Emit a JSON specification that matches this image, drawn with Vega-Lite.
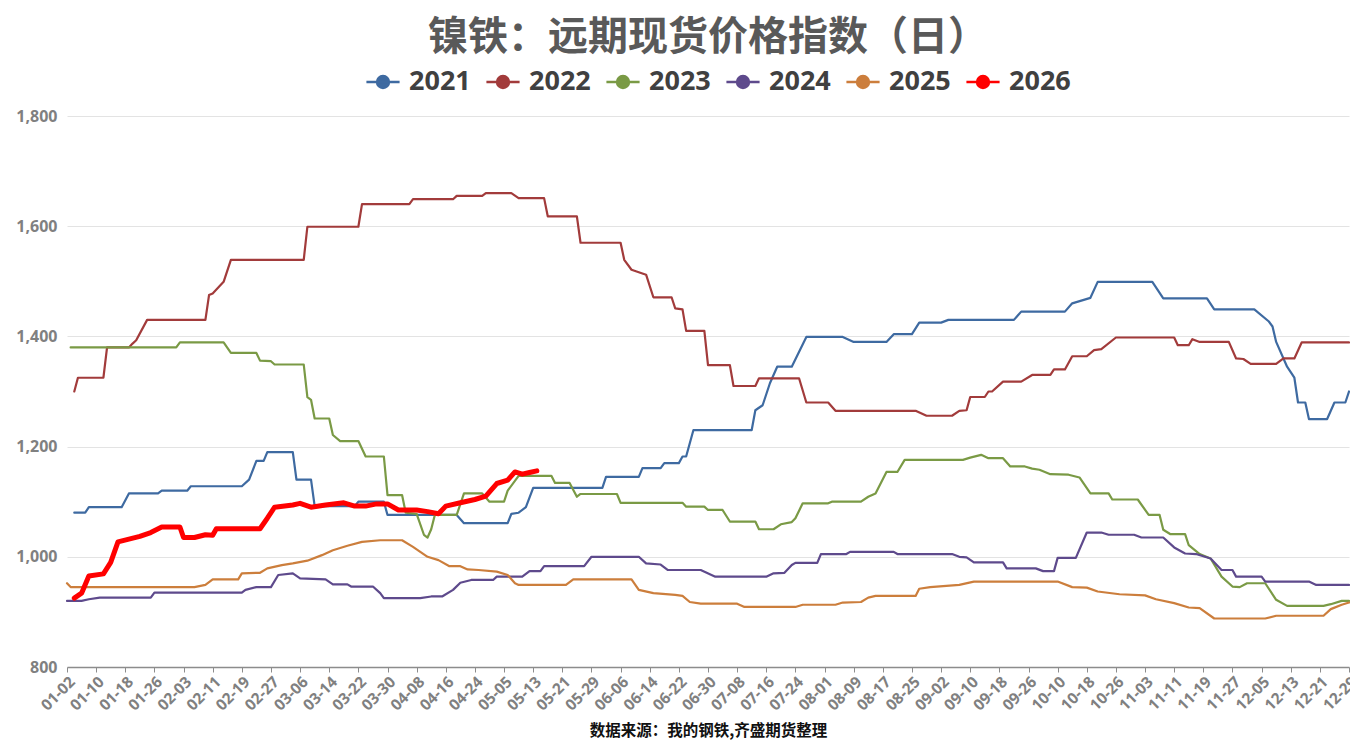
{
"$schema":"https://vega.github.io/schema/vega-lite/v6.json",
"width":1282,"height":551,
"autosize":{"type":"none"},
"padding":{"left":67,"top":116,"right":1,"bottom":75},
"background":"white",
"title":{"text":"镍铁：远期现货价格指数（日）","font":"Noto Sans CJK SC","fontSize":40,"fontWeight":"bold","color":"#595959","anchor":"middle","offset":6},
"config":{"view":{"stroke":null},"font":"Noto Sans CJK SC"},
"data":{"values":[
{"year":"2021","d":2,"v":1080},{"year":"2021","d":5,"v":1080},{"year":"2021","d":6,"v":1090},{"year":"2021","d":15,"v":1090},{"year":"2021","d":17,"v":1115},{"year":"2021","d":25,"v":1115},{"year":"2021","d":26,"v":1120},{"year":"2021","d":33,"v":1120},{"year":"2021","d":34,"v":1128},{"year":"2021","d":48,"v":1128},{"year":"2021","d":50,"v":1140},{"year":"2021","d":52,"v":1174},{"year":"2021","d":54,"v":1174},{"year":"2021","d":55,"v":1190},{"year":"2021","d":62,"v":1190},{"year":"2021","d":63,"v":1140},{"year":"2021","d":67,"v":1140},{"year":"2021","d":68,"v":1092},{"year":"2021","d":79,"v":1092},{"year":"2021","d":80,"v":1100},{"year":"2021","d":87,"v":1100},{"year":"2021","d":88,"v":1076},{"year":"2021","d":107,"v":1076},{"year":"2021","d":109,"v":1061},{"year":"2021","d":121,"v":1061},{"year":"2021","d":122,"v":1078},{"year":"2021","d":124,"v":1080},{"year":"2021","d":126,"v":1090},{"year":"2021","d":128,"v":1125},{"year":"2021","d":147,"v":1125},{"year":"2021","d":148,"v":1145},{"year":"2021","d":157,"v":1145},{"year":"2021","d":158,"v":1161},{"year":"2021","d":163,"v":1161},{"year":"2021","d":164,"v":1170},{"year":"2021","d":168,"v":1170},{"year":"2021","d":169,"v":1182},{"year":"2021","d":170,"v":1182},{"year":"2021","d":172,"v":1230},{"year":"2021","d":188,"v":1230},{"year":"2021","d":189,"v":1266},{"year":"2021","d":191,"v":1275},{"year":"2021","d":193,"v":1315},{"year":"2021","d":195,"v":1345},{"year":"2021","d":199,"v":1345},{"year":"2021","d":203,"v":1399},{"year":"2021","d":213,"v":1399},{"year":"2021","d":216,"v":1390},{"year":"2021","d":225,"v":1390},{"year":"2021","d":227,"v":1404},{"year":"2021","d":232,"v":1404},{"year":"2021","d":234,"v":1425},{"year":"2021","d":240,"v":1425},{"year":"2021","d":242,"v":1430},{"year":"2021","d":260,"v":1430},{"year":"2021","d":262,"v":1445},{"year":"2021","d":274,"v":1445},{"year":"2021","d":276,"v":1460},{"year":"2021","d":281,"v":1470},{"year":"2021","d":283,"v":1499},{"year":"2021","d":298,"v":1499},{"year":"2021","d":301,"v":1469},{"year":"2021","d":313,"v":1469},{"year":"2021","d":315,"v":1449},{"year":"2021","d":326,"v":1449},{"year":"2021","d":330,"v":1427},{"year":"2021","d":331,"v":1418},{"year":"2021","d":332,"v":1390},{"year":"2021","d":335,"v":1345},{"year":"2021","d":337,"v":1325},{"year":"2021","d":338,"v":1280},{"year":"2021","d":340,"v":1280},{"year":"2021","d":341,"v":1250},{"year":"2021","d":346,"v":1250},{"year":"2021","d":348,"v":1280},{"year":"2021","d":351,"v":1280},{"year":"2021","d":352,"v":1300},
{"year":"2022","d":2,"v":1300},{"year":"2022","d":3,"v":1325},{"year":"2022","d":10,"v":1325},{"year":"2022","d":11,"v":1380},{"year":"2022","d":17,"v":1380},{"year":"2022","d":18,"v":1387},{"year":"2022","d":19,"v":1393},{"year":"2022","d":22,"v":1430},{"year":"2022","d":38,"v":1430},{"year":"2022","d":39,"v":1475},{"year":"2022","d":40,"v":1478},{"year":"2022","d":43,"v":1499},{"year":"2022","d":45,"v":1539},{"year":"2022","d":65,"v":1539},{"year":"2022","d":66,"v":1599},{"year":"2022","d":80,"v":1599},{"year":"2022","d":81,"v":1640},{"year":"2022","d":94,"v":1640},{"year":"2022","d":95,"v":1649},{"year":"2022","d":106,"v":1649},{"year":"2022","d":107,"v":1655},{"year":"2022","d":114,"v":1655},{"year":"2022","d":115,"v":1660},{"year":"2022","d":122,"v":1660},{"year":"2022","d":124,"v":1651},{"year":"2022","d":131,"v":1651},{"year":"2022","d":132,"v":1618},{"year":"2022","d":140,"v":1618},{"year":"2022","d":141,"v":1570},{"year":"2022","d":152,"v":1570},{"year":"2022","d":153,"v":1539},{"year":"2022","d":155,"v":1521},{"year":"2022","d":159,"v":1512},{"year":"2022","d":161,"v":1471},{"year":"2022","d":166,"v":1471},{"year":"2022","d":167,"v":1451},{"year":"2022","d":169,"v":1449},{"year":"2022","d":170,"v":1410},{"year":"2022","d":175,"v":1410},{"year":"2022","d":176,"v":1348},{"year":"2022","d":182,"v":1348},{"year":"2022","d":183,"v":1310},{"year":"2022","d":189,"v":1310},{"year":"2022","d":190,"v":1324},{"year":"2022","d":201,"v":1324},{"year":"2022","d":203,"v":1280},{"year":"2022","d":209,"v":1280},{"year":"2022","d":211,"v":1265},{"year":"2022","d":233,"v":1265},{"year":"2022","d":236,"v":1256},{"year":"2022","d":243,"v":1256},{"year":"2022","d":245,"v":1265},{"year":"2022","d":247,"v":1266},{"year":"2022","d":248,"v":1290},{"year":"2022","d":252,"v":1290},{"year":"2022","d":253,"v":1300},{"year":"2022","d":254,"v":1300},{"year":"2022","d":257,"v":1318},{"year":"2022","d":262,"v":1318},{"year":"2022","d":265,"v":1330},{"year":"2022","d":270,"v":1330},{"year":"2022","d":271,"v":1340},{"year":"2022","d":274,"v":1340},{"year":"2022","d":276,"v":1364},{"year":"2022","d":280,"v":1364},{"year":"2022","d":282,"v":1375},{"year":"2022","d":284,"v":1377},{"year":"2022","d":288,"v":1398},{"year":"2022","d":304,"v":1398},{"year":"2022","d":305,"v":1384},{"year":"2022","d":308,"v":1384},{"year":"2022","d":309,"v":1395},{"year":"2022","d":311,"v":1390},{"year":"2022","d":319,"v":1390},{"year":"2022","d":321,"v":1360},{"year":"2022","d":323,"v":1359},{"year":"2022","d":325,"v":1350},{"year":"2022","d":332,"v":1350},{"year":"2022","d":334,"v":1360},{"year":"2022","d":337,"v":1360},{"year":"2022","d":339,"v":1389},{"year":"2022","d":352,"v":1389},
{"year":"2023","d":1,"v":1380},{"year":"2023","d":30,"v":1380},{"year":"2023","d":31,"v":1389},{"year":"2023","d":43,"v":1389},{"year":"2023","d":45,"v":1370},{"year":"2023","d":52,"v":1370},{"year":"2023","d":53,"v":1356},{"year":"2023","d":56,"v":1355},{"year":"2023","d":57,"v":1349},{"year":"2023","d":65,"v":1349},{"year":"2023","d":66,"v":1290},{"year":"2023","d":67,"v":1285},{"year":"2023","d":68,"v":1251},{"year":"2023","d":72,"v":1251},{"year":"2023","d":73,"v":1221},{"year":"2023","d":75,"v":1210},{"year":"2023","d":80,"v":1210},{"year":"2023","d":82,"v":1182},{"year":"2023","d":87,"v":1182},{"year":"2023","d":88,"v":1112},{"year":"2023","d":92,"v":1112},{"year":"2023","d":93,"v":1080},{"year":"2023","d":96,"v":1078},{"year":"2023","d":98,"v":1040},{"year":"2023","d":99,"v":1035},{"year":"2023","d":100,"v":1050},{"year":"2023","d":101,"v":1076},{"year":"2023","d":107,"v":1076},{"year":"2023","d":109,"v":1115},{"year":"2023","d":114,"v":1115},{"year":"2023","d":116,"v":1100},{"year":"2023","d":120,"v":1100},{"year":"2023","d":121,"v":1120},{"year":"2023","d":124,"v":1147},{"year":"2023","d":133,"v":1147},{"year":"2023","d":134,"v":1134},{"year":"2023","d":138,"v":1134},{"year":"2023","d":140,"v":1109},{"year":"2023","d":141,"v":1114},{"year":"2023","d":151,"v":1114},{"year":"2023","d":152,"v":1098},{"year":"2023","d":169,"v":1098},{"year":"2023","d":170,"v":1091},{"year":"2023","d":175,"v":1091},{"year":"2023","d":176,"v":1085},{"year":"2023","d":180,"v":1085},{"year":"2023","d":182,"v":1064},{"year":"2023","d":189,"v":1064},{"year":"2023","d":190,"v":1050},{"year":"2023","d":194,"v":1050},{"year":"2023","d":196,"v":1059},{"year":"2023","d":199,"v":1063},{"year":"2023","d":200,"v":1070},{"year":"2023","d":202,"v":1097},{"year":"2023","d":209,"v":1097},{"year":"2023","d":210,"v":1100},{"year":"2023","d":218,"v":1100},{"year":"2023","d":220,"v":1109},{"year":"2023","d":222,"v":1115},{"year":"2023","d":225,"v":1154},{"year":"2023","d":228,"v":1154},{"year":"2023","d":230,"v":1176},{"year":"2023","d":246,"v":1176},{"year":"2023","d":248,"v":1180},{"year":"2023","d":251,"v":1185},{"year":"2023","d":253,"v":1179},{"year":"2023","d":257,"v":1179},{"year":"2023","d":259,"v":1164},{"year":"2023","d":263,"v":1164},{"year":"2023","d":265,"v":1160},{"year":"2023","d":267,"v":1158},{"year":"2023","d":270,"v":1150},{"year":"2023","d":275,"v":1149},{"year":"2023","d":278,"v":1144},{"year":"2023","d":281,"v":1115},{"year":"2023","d":286,"v":1115},{"year":"2023","d":287,"v":1104},{"year":"2023","d":294,"v":1104},{"year":"2023","d":297,"v":1076},{"year":"2023","d":300,"v":1076},{"year":"2023","d":301,"v":1049},{"year":"2023","d":303,"v":1041},{"year":"2023","d":307,"v":1041},{"year":"2023","d":308,"v":1021},{"year":"2023","d":311,"v":1005},{"year":"2023","d":314,"v":997},{"year":"2023","d":317,"v":964},{"year":"2023","d":320,"v":946},{"year":"2023","d":322,"v":945},{"year":"2023","d":324,"v":952},{"year":"2023","d":329,"v":952},{"year":"2023","d":332,"v":922},{"year":"2023","d":335,"v":911},{"year":"2023","d":345,"v":911},{"year":"2023","d":347,"v":914},{"year":"2023","d":350,"v":920},{"year":"2023","d":352,"v":920},
{"year":"2024","d":0,"v":920},{"year":"2024","d":4,"v":920},{"year":"2024","d":6,"v":923},{"year":"2024","d":9,"v":926},{"year":"2024","d":23,"v":926},{"year":"2024","d":24,"v":935},{"year":"2024","d":48,"v":935},{"year":"2024","d":49,"v":940},{"year":"2024","d":52,"v":945},{"year":"2024","d":56,"v":945},{"year":"2024","d":58,"v":967},{"year":"2024","d":62,"v":970},{"year":"2024","d":64,"v":961},{"year":"2024","d":71,"v":959},{"year":"2024","d":73,"v":950},{"year":"2024","d":77,"v":950},{"year":"2024","d":78,"v":946},{"year":"2024","d":84,"v":946},{"year":"2024","d":86,"v":934},{"year":"2024","d":87,"v":925},{"year":"2024","d":97,"v":925},{"year":"2024","d":100,"v":928},{"year":"2024","d":103,"v":928},{"year":"2024","d":106,"v":940},{"year":"2024","d":108,"v":953},{"year":"2024","d":111,"v":958},{"year":"2024","d":117,"v":958},{"year":"2024","d":118,"v":964},{"year":"2024","d":125,"v":964},{"year":"2024","d":127,"v":974},{"year":"2024","d":130,"v":974},{"year":"2024","d":131,"v":983},{"year":"2024","d":142,"v":983},{"year":"2024","d":144,"v":1000},{"year":"2024","d":157,"v":1000},{"year":"2024","d":159,"v":988},{"year":"2024","d":163,"v":986},{"year":"2024","d":165,"v":976},{"year":"2024","d":174,"v":976},{"year":"2024","d":178,"v":964},{"year":"2024","d":192,"v":964},{"year":"2024","d":194,"v":970},{"year":"2024","d":197,"v":971},{"year":"2024","d":199,"v":985},{"year":"2024","d":200,"v":989},{"year":"2024","d":206,"v":989},{"year":"2024","d":207,"v":1005},{"year":"2024","d":214,"v":1005},{"year":"2024","d":215,"v":1009},{"year":"2024","d":227,"v":1009},{"year":"2024","d":228,"v":1005},{"year":"2024","d":243,"v":1005},{"year":"2024","d":245,"v":1000},{"year":"2024","d":247,"v":999},{"year":"2024","d":249,"v":990},{"year":"2024","d":257,"v":990},{"year":"2024","d":258,"v":979},{"year":"2024","d":266,"v":979},{"year":"2024","d":268,"v":974},{"year":"2024","d":271,"v":974},{"year":"2024","d":272,"v":998},{"year":"2024","d":277,"v":998},{"year":"2024","d":280,"v":1044},{"year":"2024","d":284,"v":1044},{"year":"2024","d":286,"v":1040},{"year":"2024","d":293,"v":1040},{"year":"2024","d":295,"v":1035},{"year":"2024","d":301,"v":1035},{"year":"2024","d":304,"v":1017},{"year":"2024","d":307,"v":1006},{"year":"2024","d":310,"v":1005},{"year":"2024","d":314,"v":997},{"year":"2024","d":317,"v":976},{"year":"2024","d":320,"v":976},{"year":"2024","d":321,"v":964},{"year":"2024","d":328,"v":964},{"year":"2024","d":329,"v":955},{"year":"2024","d":341,"v":955},{"year":"2024","d":343,"v":949},{"year":"2024","d":352,"v":949},
{"year":"2025","d":0,"v":952},{"year":"2025","d":1,"v":945},{"year":"2025","d":35,"v":945},{"year":"2025","d":38,"v":949},{"year":"2025","d":40,"v":959},{"year":"2025","d":47,"v":959},{"year":"2025","d":48,"v":970},{"year":"2025","d":53,"v":971},{"year":"2025","d":55,"v":979},{"year":"2025","d":59,"v":985},{"year":"2025","d":62,"v":988},{"year":"2025","d":66,"v":993},{"year":"2025","d":70,"v":1003},{"year":"2025","d":73,"v":1012},{"year":"2025","d":77,"v":1020},{"year":"2025","d":81,"v":1027},{"year":"2025","d":86,"v":1030},{"year":"2025","d":92,"v":1030},{"year":"2025","d":95,"v":1018},{"year":"2025","d":97,"v":1009},{"year":"2025","d":99,"v":1000},{"year":"2025","d":102,"v":994},{"year":"2025","d":105,"v":983},{"year":"2025","d":108,"v":983},{"year":"2025","d":110,"v":977},{"year":"2025","d":113,"v":976},{"year":"2025","d":118,"v":973},{"year":"2025","d":121,"v":967},{"year":"2025","d":123,"v":952},{"year":"2025","d":124,"v":949},{"year":"2025","d":137,"v":949},{"year":"2025","d":139,"v":959},{"year":"2025","d":155,"v":959},{"year":"2025","d":157,"v":940},{"year":"2025","d":161,"v":934},{"year":"2025","d":167,"v":931},{"year":"2025","d":169,"v":929},{"year":"2025","d":171,"v":918},{"year":"2025","d":174,"v":915},{"year":"2025","d":184,"v":915},{"year":"2025","d":186,"v":909},{"year":"2025","d":200,"v":909},{"year":"2025","d":202,"v":913},{"year":"2025","d":211,"v":913},{"year":"2025","d":213,"v":917},{"year":"2025","d":218,"v":918},{"year":"2025","d":220,"v":926},{"year":"2025","d":222,"v":929},{"year":"2025","d":233,"v":929},{"year":"2025","d":234,"v":942},{"year":"2025","d":237,"v":945},{"year":"2025","d":245,"v":949},{"year":"2025","d":249,"v":955},{"year":"2025","d":272,"v":955},{"year":"2025","d":276,"v":945},{"year":"2025","d":280,"v":944},{"year":"2025","d":283,"v":937},{"year":"2025","d":289,"v":932},{"year":"2025","d":296,"v":930},{"year":"2025","d":299,"v":923},{"year":"2025","d":304,"v":916},{"year":"2025","d":308,"v":908},{"year":"2025","d":311,"v":907},{"year":"2025","d":315,"v":888},{"year":"2025","d":329,"v":888},{"year":"2025","d":332,"v":893},{"year":"2025","d":345,"v":893},{"year":"2025","d":347,"v":905},{"year":"2025","d":350,"v":913},{"year":"2025","d":352,"v":917},
{"year":"2026","d":2,"v":925},{"year":"2026","d":4,"v":934},{"year":"2026","d":6,"v":965},{"year":"2026","d":10,"v":969},{"year":"2026","d":12,"v":990},{"year":"2026","d":14,"v":1027},{"year":"2026","d":17,"v":1032},{"year":"2026","d":20,"v":1037},{"year":"2026","d":23,"v":1044},{"year":"2026","d":26,"v":1054},{"year":"2026","d":31,"v":1054},{"year":"2026","d":32,"v":1035},{"year":"2026","d":35,"v":1035},{"year":"2026","d":38,"v":1040},{"year":"2026","d":40,"v":1039},{"year":"2026","d":41,"v":1051},{"year":"2026","d":53,"v":1051},{"year":"2026","d":55,"v":1070},{"year":"2026","d":57,"v":1090},{"year":"2026","d":62,"v":1094},{"year":"2026","d":64,"v":1097},{"year":"2026","d":67,"v":1090},{"year":"2026","d":71,"v":1094},{"year":"2026","d":76,"v":1098},{"year":"2026","d":79,"v":1092},{"year":"2026","d":82,"v":1092},{"year":"2026","d":85,"v":1096},{"year":"2026","d":88,"v":1096},{"year":"2026","d":91,"v":1085},{"year":"2026","d":96,"v":1085},{"year":"2026","d":99,"v":1082},{"year":"2026","d":102,"v":1078},{"year":"2026","d":104,"v":1092},{"year":"2026","d":108,"v":1098},{"year":"2026","d":112,"v":1104},{"year":"2026","d":115,"v":1110},{"year":"2026","d":118,"v":1133},{"year":"2026","d":121,"v":1139},{"year":"2026","d":123,"v":1154},{"year":"2026","d":125,"v":1150},{"year":"2026","d":127,"v":1153},{"year":"2026","d":129,"v":1156}
]},
"mark":{"type":"line","interpolate":"linear","strokeJoin":"round","strokeCap":"round"},
"encoding":{
"x":{"field":"d","type":"quantitative","scale":{"domain":[0,352],"nice":false,"zero":false},
"axis":{"values":[0,8,16,24,32,40,48,56,64,72,80,88,96,104,112,120,128,136,144,152,160,168,176,184,192,200,208,216,224,232,240,248,256,264,272,280,288,296,304,312,320,328,336,344,352],
"labelExpr":"['01-02','01-10','01-18','01-26','02-03','02-11','02-19','02-27','03-06','03-14','03-22','03-30','04-08','04-16','04-24','05-05','05-13','05-21','05-29','06-06','06-14','06-22','06-30','07-08','07-16','07-24','08-01','08-09','08-17','08-25','09-02','09-10','09-18','09-26','10-10','10-18','10-26','11-03','11-11','11-19','11-27','12-05','12-13','12-21','12-29'][round(datum.value/8)]",
"labelAngle":-45,"labelFont":"Noto Sans","labelFontSize":15.5,"labelFontWeight":"bold","labelColor":"#808080","labelOverlap":false,"labelFlush":false,"labelPadding":2,"labelDx":-3,
"domainColor":"#8c8c8c","domainWidth":1.5,"tickColor":"#8c8c8c","tickSize":5,"grid":false,
"title":"数据来源：我的钢铁,齐盛期货整理","titleFont":"Noto Sans CJK SC","titleFontSize":15.5,"titleFontWeight":"bold","titleColor":"#111111","titlePadding":10}},
"y":{"field":"v","type":"quantitative","scale":{"domain":[800,1800],"nice":false,"zero":false},
"axis":{"values":[800,1000,1200,1400,1600,1800],"format":",d","title":null,"domain":false,"ticks":false,"grid":true,"gridColor":"#e3e3e3","gridWidth":1,
"labelFont":"Noto Sans","labelFontSize":16,"labelFontWeight":"bold","labelColor":"#808080","labelPadding":10}},
"color":{"field":"year","type":"nominal","scale":{"domain":["2021","2022","2023","2024","2025","2026"],"range":["#3E6AA1","#A23B3B","#7A9A45","#5E4A8C","#CC7E3C","#FF0000"]},
"legend":{"orient":"none","legendX":298,"legendY":-52,"direction":"horizontal","title":null,
"symbolType":"M-1,0H1M-0.36,0A0.36,0.36 0 1,0 0.36,0A0.36,0.36 0 1,0 -0.36,0",
"symbolSize":1100,"symbolStrokeWidth":2.5,"labelFont":"Noto Sans","labelFontSize":27,"labelFontWeight":"bold","labelColor":"#404040","labelOffset":8,"columnPadding":10,
"encode":{"symbols":{"update":{"fill":{"scale":"color","field":"value"},"stroke":{"scale":"color","field":"value"}}}}}},
"strokeWidth":{"condition":{"test":"datum.year == '2026'","value":5},"value":2.2}
}
}
